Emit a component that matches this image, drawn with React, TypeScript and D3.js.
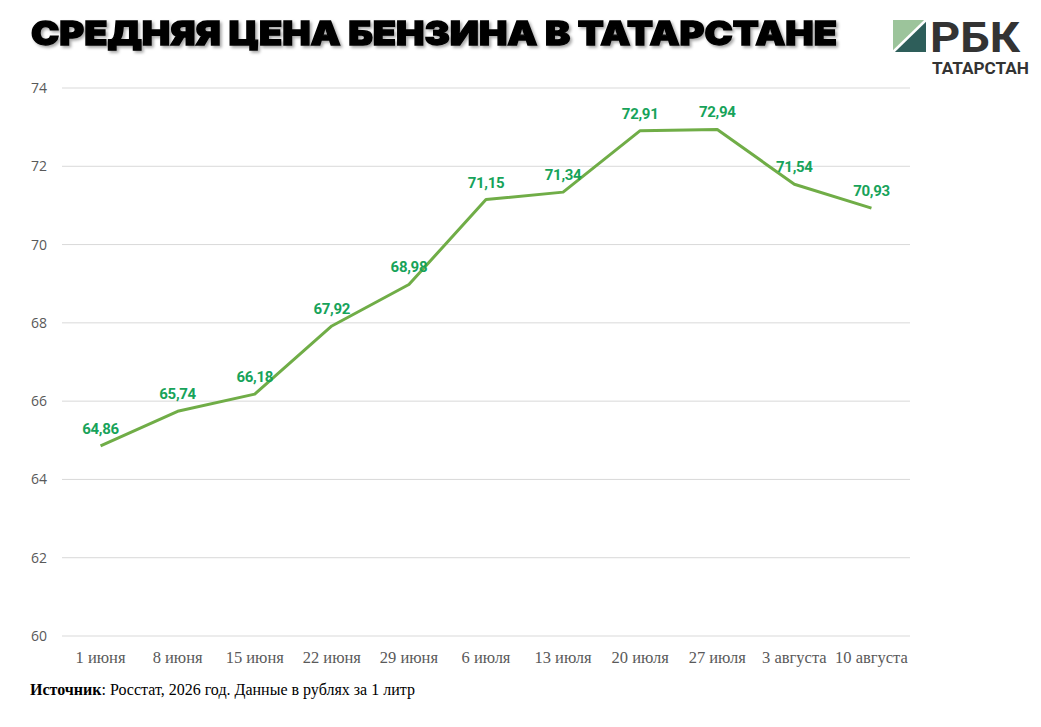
import React from "react";
import * as d3 from "d3";

const categories = ["1 июня", "8 июня", "15 июня", "22 июня", "29 июня", "6 июля", "13 июля", "20 июля", "27 июля", "3 августа", "10 августа"];
const prices = [64.86, 65.74, 66.18, 67.92, 68.98, 71.15, 71.34, 72.91, 72.94, 71.54, 70.93];
const yTicks = [60, 62, 64, 66, 68, 70, 72, 74];

const W = 1041;
const H = 727;

export default function App() {
  const x = d3.scaleBand().domain(categories).range([62, 910]);
  const y = d3.scaleLinear().domain([60, 74]).range([636, 88]);
  const cx = (c: string) => (x(c) as number) + x.bandwidth() / 2;
  const line = d3
    .line<number>()
    .x((_, i) => cx(categories[i]))
    .y((d) => y(d));
  const fmt = (v: number) => v.toFixed(2).replace(".", ",");

  return (
    <svg width={W} height={H} style={{ position: "absolute", left: 0, top: 0, background: "#fff" }}>
      <defs>
        <filter id="sh" x="-5%" y="-30%" width="110%" height="160%">
          <feDropShadow dx="2" dy="2" stdDeviation="1.5" floodColor="#000" floodOpacity="0.35" />
        </filter>
      </defs>
      <rect width={W} height={H} fill="#fff" />
      <text
        x={31}
        y={45}
        fontFamily="Inter, Lato, Roboto, sans-serif"
        fontWeight={900}
        fontSize={33}
        fill="#000"
        stroke="#000"
        strokeWidth={1.3}
        textLength={806}
        lengthAdjust="spacingAndGlyphs"
        filter="url(#sh)"
      >
        СРЕДНЯЯ ЦЕНА БЕНЗИНА В ТАТАРСТАНЕ
      </text>

      {/* logo */}
      <g>
        <polygon points="893,20 926,20 893,52" fill="#9cc49b" />
        <polygon points="926,20 926,52 893,52" fill="#2e5e5a" />
        <line x1={893} y1={52} x2={926} y2={20} stroke="#fff" strokeWidth={2.5} />
        <text x={930} y={52} fontFamily="Roboto, Arial, sans-serif" fontWeight={700} fontSize={42} fill="#333" textLength={90} lengthAdjust="spacingAndGlyphs">
          РБК
        </text>
        <text x={932} y={74} fontFamily="Roboto, Arial, sans-serif" fontWeight={700} fontSize={16} fill="#333" textLength={97} lengthAdjust="spacingAndGlyphs">
          ТАТАРСТАН
        </text>
      </g>

      {/* grid */}
      {yTicks.map((t) => (
        <g key={t}>
          <line x1={62} x2={910} y1={y(t)} y2={y(t)} stroke="#d9d9d9" strokeWidth={1} />
          <text x={47} y={y(t) + 5} textAnchor="end" fontFamily="'Open Sans', 'Noto Sans', sans-serif" fontSize={14} fill="#595959">
            {t}
          </text>
        </g>
      ))}

      {categories.map((c) => (
        <text key={c} x={cx(c)} y={663} textAnchor="middle" fontFamily="'Liberation Serif', 'Times New Roman', serif" fontSize={16.5} fill="#595959">
          {c}
        </text>
      ))}

      <path d={line(prices) || ""} fill="none" stroke="#70ad47" strokeWidth={3} strokeLinejoin="round" />

      {prices.map((v, i) => (
        <text
          key={i}
          x={cx(categories[i])}
          y={y(v) - 12}
          textAnchor="middle"
          fontFamily="Roboto, 'Noto Sans', sans-serif"
          fontWeight={700}
          fontSize={15}
          fill="#17a35a"
          letterSpacing={-0.3}
        >
          {fmt(v)}
        </text>
      ))}

      <text x={30} y={695} fontFamily="'Liberation Serif', 'Times New Roman', serif" fontSize={16} fill="#000">
        <tspan fontWeight={700}>Источник</tspan>: Росстат, 2026 год. Данные в рублях за 1 литр
      </text>
    </svg>
  );
}
